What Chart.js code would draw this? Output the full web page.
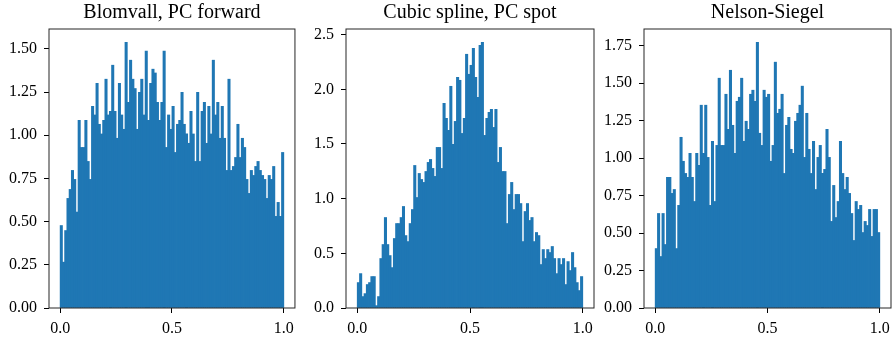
<!DOCTYPE html>
<html>
<head>
<meta charset="utf-8">
<script src="https://cdn.jsdelivr.net/npm/chart.js@4"></script>
<style>
  html, body { margin: 0; padding: 0; background: #fff; }
  #wrap { position: relative; width: 896px; height: 338px; }
  canvas { position: absolute; top: 0; }
</style>
</head>
<body>
<div id="wrap">
  <canvas id="c1" width="300" height="338" style="left:0px"></canvas>
  <canvas id="c2" width="300" height="338" style="left:300px"></canvas>
  <canvas id="c3" width="296" height="338" style="left:600px"></canvas>
</div>
<script>
const titles = ['Blomvall, PC forward', 'Cubic spline, PC spot', 'Nelson-Siegel'];

// histogram densities, 100 bins on [0, 1]
const blomvall = [
  0.477, 0.265, 0.448, 0.634, 0.686, 0.796, 0.744, 0.555, 1.086, 0.929,
  0.929, 1.086, 0.848, 0.744, 1.167, 1.117, 1.30, 1.063, 1.007, 1.086,
  1.324, 1.117, 1.138, 1.405, 1.138, 0.982, 1.30, 1.117, 1.034, 1.538,
  1.19, 1.434, 1.324, 1.27, 1.034, 1.248, 1.324, 1.117, 1.486, 1.086,
  1.30, 1.382, 1.36, 1.19, 1.086, 1.19, 1.486, 0.929, 1.117, 1.034,
  1.167, 0.90, 1.063, 1.086, 1.248, 1.063, 1.007, 0.953, 1.138, 1.007,
  0.848, 1.248, 0.848, 1.138, 1.19, 0.953, 1.167, 1.007, 1.434, 1.117,
  1.19, 0.982, 1.167, 0.982, 0.796, 1.324, 0.796, 0.819, 0.871, 1.063,
  0.871, 0.982, 0.929, 0.744, 0.663, 0.796, 0.767, 0.819, 0.848, 0.796,
  0.767, 0.744, 0.634, 0.767, 0.744, 0.819, 0.53, 0.611, 0.53, 0.90
];
const cubicSpline = [
  0.232, 0.314, 0.104, 0.131, 0.214, 0.232, 0.287, 0.287, 0.021, 0.104,
  0.452, 0.58, 0.827, 0.58, 0.479, 0.369, 0.635, 0.772, 0.772, 0.827,
  0.928, 0.662, 0.607, 0.772, 0.90, 1.303, 1.01, 1.23, 1.175, 1.148,
  1.248, 1.331, 1.358, 1.276, 1.203, 1.468, 1.468, 1.276, 1.871, 1.734,
  1.624, 2.027, 1.496, 1.706, 2.109, 2.082, 1.596, 1.734, 2.32, 2.137,
  2.219, 2.375, 2.109, 1.926, 2.402, 2.43, 1.578, 1.734, 1.789, 1.816,
  1.651, 1.816, 1.331, 1.468, 1.248, 1.248, 0.772, 1.038, 1.148, 0.90,
  1.038, 1.038, 0.955, 0.607, 0.882, 0.955, 0.80, 0.827, 0.607, 0.69,
  0.662, 0.397, 0.534, 0.452, 0.534, 0.507, 0.562, 0.452, 0.314, 0.452,
  0.397, 0.452, 0.214, 0.424, 0.342, 0.507, 0.369, 0.232, 0.159, 0.287
];
const nelsonSiegel = [
  0.396, 0.63, 0.343, 0.63, 0.423, 0.871, 0.871, 0.764, 0.79, 0.396,
  0.684, 1.138, 0.978, 0.897, 0.871, 1.031, 0.871, 0.71, 1.031, 0.951,
  1.352, 1.031, 1.352, 1.004, 0.684, 1.111, 0.71, 1.084, 1.532, 1.084,
  1.084, 1.425, 1.191, 1.585, 1.218, 1.031, 1.378, 1.405, 1.532, 1.111,
  1.245, 1.191, 1.425, 1.452, 1.378, 1.772, 1.165, 1.084, 1.452, 1.405,
  1.425, 0.978, 1.084, 1.639, 1.298, 1.325, 1.425, 0.897, 1.218, 1.271,
  1.058, 1.031, 1.245, 1.298, 1.352, 1.479, 1.004, 1.298, 1.058, 0.897,
  1.111, 0.79, 1.004, 1.084, 0.897, 0.924, 1.191, 1.004, 0.577, 0.817,
  0.603, 0.71, 1.111, 0.897, 0.79, 0.871, 0.764, 0.63, 0.45, 0.71,
  0.657, 0.684, 0.503, 0.577, 0.55, 0.657, 0.477, 0.657, 0.657, 0.503
];

const xTicks = [0, 0.5, 1];
const yStep = [0.25, 0.5, 0.25];
const yDecimals = [2, 1, 2];

const nBins = 100;
const binCenters = Array.from({ length: nBins }, (_, i) => (i + 0.5) / nBins);

const tickFont = { family: 'Liberation Serif', size: 16 };

// matplotlib style box round the axes
const frame = {
  id: 'frame',
  afterDatasetsDraw(chart) {
    const { ctx, chartArea: a } = chart;
    ctx.save();
    ctx.strokeStyle = '#262626';
    ctx.lineWidth = 1;
    ctx.strokeRect(a.left, a.top, a.right - a.left, a.bottom - a.top);
    ctx.restore();
  }
};

function histChart(id, k, values, yWidth, padRight) {
  return new Chart(document.getElementById(id), {
    type: 'bar',
    data: {
      datasets: [{
        data: binCenters.map((x, i) => ({ x: x, y: values[i] })),
        backgroundColor: '#1f77b4',
        borderWidth: 0,
        inflateAmount: 0.4,
        barPercentage: 1,
        categoryPercentage: 1
      }]
    },
    options: {
      responsive: false,
      animation: false,
      layout: { padding: { left: 0, right: padRight, top: 0, bottom: 0 } },
      plugins: {
        legend: { display: false },
        tooltip: { enabled: false },
        title: {
          display: true,
          text: titles[k],
          fullSize: false,
          color: '#000',
          font: { family: 'Liberation Serif', size: 20, weight: 'normal' },
          padding: { top: 1, bottom: 4 }
        }
      },
      scales: {
        x: {
          type: 'linear',
          min: -0.05,
          max: 1.05,
          offset: false,
          afterBuildTicks: s => { s.ticks = xTicks.map(v => ({ value: v })); },
          afterFit: s => { s.height = 30; },
          grid: { drawOnChartArea: false, offset: false, tickLength: 5, color: '#000' },
          border: { display: false },
          ticks: {
            padding: 6, color: '#000', font: tickFont, maxRotation: 0,
            callback: v => v.toFixed(1)
          }
        },
        y: {
          min: 0,
          max: 1.05 * Math.max(...values),
          afterFit: s => { s.width = yWidth; },
          grid: { drawOnChartArea: false, tickLength: 5, color: '#000' },
          border: { display: false },
          ticks: {
            stepSize: yStep[k], includeBounds: false,
            padding: 7, color: '#000', font: tickFont,
            callback: v => v.toFixed(yDecimals[k])
          }
        }
      }
    },
    plugins: [frame]
  });
}

histChart('c1', 0, blomvall, 49, 3);
histChart('c2', 1, cubicSpline, 46, 6);
histChart('c3', 2, nelsonSiegel, 44, 4);
</script>
</body>
</html>
